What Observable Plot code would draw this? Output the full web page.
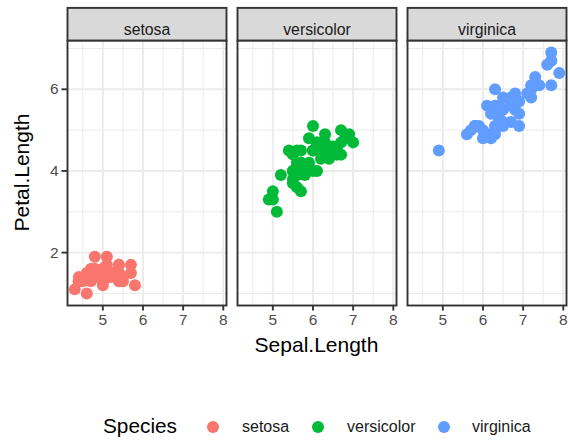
<!DOCTYPE html>
<html>
<head>
<meta charset="utf-8">
<script src="https://cdn.jsdelivr.net/npm/d3@7"></script>
<script src="https://cdn.jsdelivr.net/npm/@observablehq/plot@0.6"></script>
<style>
  body { margin: 0; background: #fff; font-family: "Liberation Sans", Arial, sans-serif; }
  #wrap { position: relative; width: 570px; height: 441px; }
  #legend { position: absolute; left: 0; top: 370px; width: 570px; height: 71px; }
  #legend span { position: absolute; white-space: nowrap; line-height: 1; }
  #legend .dot { width: 12px; height: 12px; border-radius: 50%; }
</style>
</head>
<body>
<div id="wrap"><div id="chart"></div><div id="legend"></div></div>
<script>
const species = ["setosa", "versicolor", "virginica"];
const colors = ["#F8766D", "#00BA38", "#619CFF"];

const setosaSepal = [5.1,4.9,4.7,4.6,5.0,5.4,4.6,5.0,4.4,4.9,5.4,4.8,4.8,4.3,5.8,5.7,5.4,5.1,5.7,5.1,5.4,5.1,4.6,5.1,4.8,5.0,5.0,5.2,5.2,4.7,4.8,5.4,5.2,5.5,4.9,5.0,5.5,4.9,4.4,5.1,5.0,4.5,4.4,5.0,5.1,4.8,5.1,4.6,5.3,5.0];
const setosaPetal = [1.4,1.4,1.3,1.5,1.4,1.7,1.4,1.5,1.4,1.5,1.5,1.6,1.4,1.1,1.2,1.5,1.3,1.4,1.7,1.5,1.7,1.5,1.0,1.7,1.9,1.6,1.6,1.5,1.4,1.6,1.6,1.5,1.5,1.4,1.5,1.2,1.3,1.4,1.3,1.5,1.3,1.3,1.3,1.6,1.9,1.4,1.6,1.4,1.5,1.4];
const versicolorSepal = [7.0,6.4,6.9,5.5,6.5,5.7,6.3,4.9,6.6,5.2,5.0,5.9,6.0,6.1,5.6,6.7,5.6,5.8,6.2,5.6,5.9,6.1,6.3,6.1,6.4,6.6,6.8,6.7,6.0,5.7,5.5,5.5,5.8,6.0,5.4,6.0,6.7,6.3,5.6,5.5,5.5,6.1,5.8,5.0,5.6,5.7,5.7,6.2,5.1,5.7];
const versicolorPetal = [4.7,4.5,4.9,4.0,4.6,4.5,4.7,3.3,4.6,3.9,3.5,4.2,4.0,4.7,3.6,4.4,4.5,4.1,4.5,3.9,4.8,4.0,4.9,4.7,4.3,4.4,4.8,5.0,4.5,3.5,3.8,3.7,3.9,5.1,4.5,4.5,4.7,4.4,4.1,4.0,4.4,4.6,4.0,3.3,4.2,4.2,4.2,4.3,3.0,4.1];
const virginicaSepal = [6.3,5.8,7.1,6.3,6.5,7.6,4.9,7.3,6.7,7.2,6.5,6.4,6.8,5.7,5.8,6.4,6.5,7.7,7.7,6.0,6.9,5.6,7.7,6.3,6.7,7.2,6.2,6.1,6.4,7.2,7.4,7.9,6.4,6.3,6.1,7.7,6.3,6.4,6.0,6.9,6.7,6.9,5.8,6.8,6.7,6.7,6.3,6.5,6.2,5.9];
const virginicaPetal = [6.0,5.1,5.9,5.6,5.8,6.6,4.5,6.3,5.8,6.1,5.1,5.3,5.5,5.0,5.1,5.3,5.5,6.7,6.9,5.0,5.7,4.9,6.7,4.9,5.7,6.0,4.8,4.9,5.6,5.8,6.1,6.4,5.6,5.1,5.6,6.1,5.6,5.5,4.8,5.4,5.6,5.1,5.1,5.9,5.7,5.2,5.0,5.2,5.4,5.1];

const xMajor = [5, 6, 7, 8];
const xMinor = [4.5, 5.5, 6.5, 7.5];
const yMajor = [2, 4, 6];
const yMinor = [1, 3, 5, 7];

const sepalBySpecies = [setosaSepal, versicolorSepal, virginicaSepal];
const petalBySpecies = [setosaPetal, versicolorPetal, virginicaPetal];
const data = [];
species.forEach((s, i) => {
  sepalBySpecies[i].forEach((v, j) => data.push({Species: s, Sepal: v, Petal: petalBySpecies[i][j]}));
});

const sepalExt = d3.extent(data, d => d.Sepal);
const petalExt = d3.extent(data, d => d.Petal);
const ex = (e) => { const p = (e[1] - e[0]) * 0.05; return [e[0] - p, e[1] + p]; };

const W = 570, H = 370, mT = 40, mB = 65, mL = 66, mR = 3;
const panelH = H - mT - mB;
const stripH = 32.6;
const dark = "#333333";
const bw = 1.9;
const fmt = d3.format("d");

const plot = Plot.plot({
  width: W, height: H,
  marginTop: mT, marginBottom: mB, marginLeft: mL, marginRight: mR,
  style: {fontFamily: "'Liberation Sans', Arial, sans-serif", background: "#fff"},
  fx: {domain: species, paddingInner: 0.067, paddingOuter: 0, axis: null, label: null},
  x: {domain: ex(sepalExt)},
  y: {domain: ex(petalExt)},
  color: {domain: species, range: colors},
  marks: [
    Plot.gridX(xMinor, {stroke: "#ebebeb", strokeOpacity: 1, strokeWidth: 1}),
    Plot.gridY(yMinor, {stroke: "#ebebeb", strokeOpacity: 1, strokeWidth: 1}),
    Plot.gridX(xMajor, {stroke: "#ebebeb", strokeOpacity: 1, strokeWidth: bw}),
    Plot.gridY(yMajor, {stroke: "#ebebeb", strokeOpacity: 1, strokeWidth: bw}),
    Plot.dot(data, {x: "Sepal", y: "Petal", fx: "Species", fill: "Species", r: 6}),
    Plot.frame({stroke: dark, strokeWidth: bw}),
    Plot.frame({fill: "#d9d9d9", stroke: dark, strokeWidth: bw, insetTop: -stripH, insetBottom: panelH}),
    Plot.text(species, {fx: d => d, text: d => d, frameAnchor: "top", dy: -stripH / 2, fontSize: 15.8, fill: "#1a1a1a"}),
    Plot.axisX({ticks: xMajor, tickFormat: fmt, tickSize: 5.5, tickPadding: 3, fontSize: 15.5, stroke: dark, strokeWidth: bw, fill: "#4d4d4d", label: null}),
    Plot.axisY({ticks: yMajor, tickFormat: fmt, tickSize: 5.5, tickPadding: 3.5, fontSize: 15.5, stroke: dark, strokeWidth: bw, fill: "#4d4d4d", label: null})
  ]
});
document.getElementById("chart").appendChild(plot);

const svg = d3.select(plot);
svg.append("text").attr("x", (mL + W - mR) / 2).attr("y", 352).attr("text-anchor", "middle")
  .attr("font-size", 21).attr("fill", "#000").text("Sepal.Length");
svg.append("text").attr("transform", `translate(29,${mT + panelH / 2}) rotate(-90)`).attr("text-anchor", "middle")
  .attr("font-size", 21).attr("fill", "#000").text("Petal.Length");

// legend
const legend = d3.select("#legend");
const cy = 57;
legend.append("span").style("left", "103px").style("top", (cy - 11) + "px").style("font-size", "20.8px").style("color", "#000").text("Species");
const dotX = [213, 318, 444];
const labX = [242, 347, 472];
species.forEach((s, i) => {
  legend.append("span").attr("class", "dot").style("left", (dotX[i] - 6) + "px").style("top", (cy - 6) + "px").style("background", colors[i]);
  legend.append("span").style("left", labX[i] + "px").style("top", (cy - 8.5) + "px").style("font-size", "16px").style("color", "#1a1a1a").text(s);
});
</script>
</body>
</html>
